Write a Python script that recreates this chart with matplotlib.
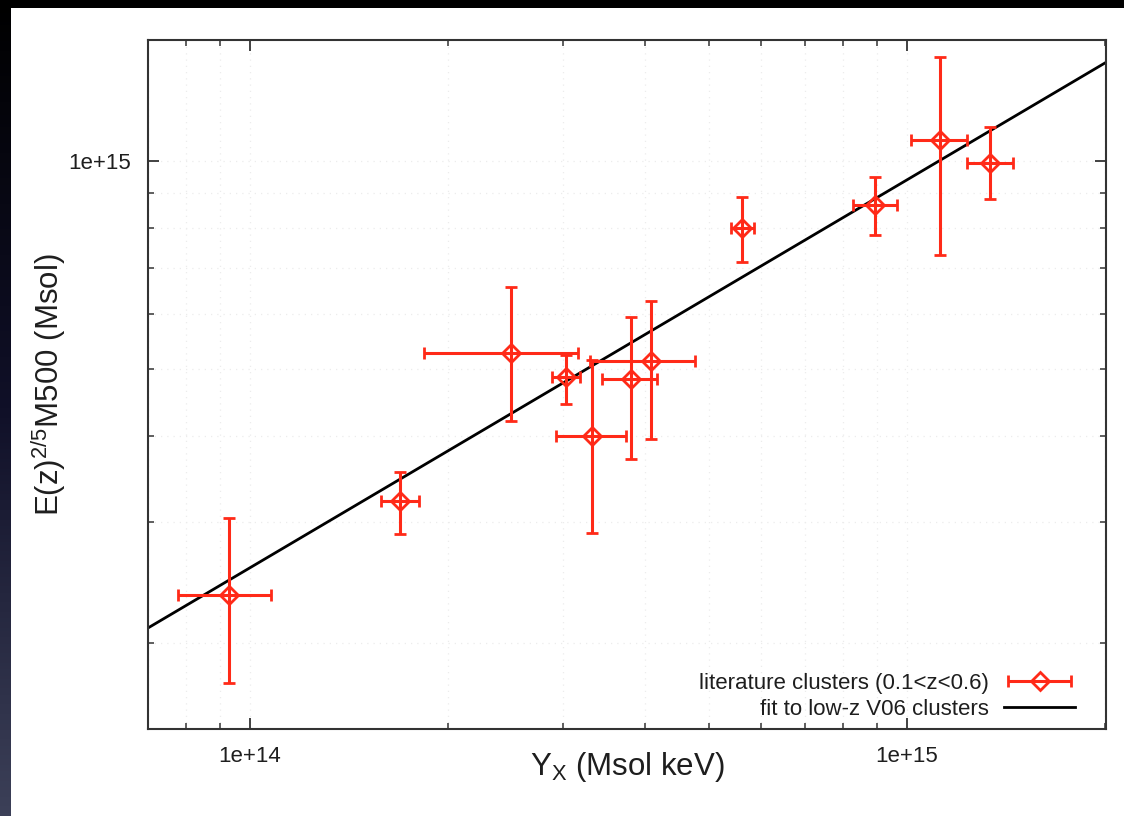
import numpy as np
import matplotlib
matplotlib.use("Agg")
import matplotlib.pyplot as plt
from matplotlib.patches import Rectangle
from matplotlib.colors import LinearSegmentedColormap
from matplotlib.container import ErrorbarContainer
from matplotlib.legend_handler import HandlerErrorbar
from matplotlib.ticker import LogLocator, FixedLocator, FixedFormatter, NullFormatter

plt.rcParams['font.family'] = ['Liberation Sans', 'DejaVu Sans']
plt.rcParams['mathtext.default'] = 'regular'

# Literature clusters: Y_X (Msol keV) and E(z)^{2/5} M500 (Msol), with asymmetric errors
yx = [9.29e13, 1.692e14, 2.497e14, 3.027e14, 3.315e14, 3.80e14, 4.077e14,
      5.609e14, 8.94e14, 1.123e15, 1.337e15]
yx_lo = [7.77e13, 1.583e14, 1.840e14, 2.882e14, 2.923e14, 3.434e14, 3.292e14,
         5.396e14, 8.277e14, 1.014e15, 1.234e15]
yx_hi = [1.076e14, 1.808e14, 3.156e14, 3.18e14, 3.735e14, 4.164e14, 4.756e14,
         5.848e14, 9.65e14, 1.234e15, 1.449e15]
mass = [2.35e14, 3.216e14, 5.278e14, 4.87e14, 3.997e14, 4.836e14, 5.138e14,
        7.99e14, 8.63e14, 1.073e15, 9.93e14]
mass_lo = [1.748e14, 2.880e14, 4.203e14, 4.45e14, 2.89e14, 3.701e14, 3.957e14,
           7.154e14, 7.805e14, 7.32e14, 8.807e14]
mass_hi = [3.04e14, 3.543e14, 6.58e14, 5.243e14, 5.155e14, 5.934e14, 6.28e14,
           8.865e14, 9.48e14, 1.416e15, 1.12e15]

# Power-law fit to the low-z V06 clusters: M = norm * (Y_X / 1e14)^slope
fit_norm = 2.57e14
fit_slope = 0.563

x_range = [7.0e13, 2.01e15]
y_range = [1.5e14, 1.5e15]

x_ticks = [1e14, 1e15]
x_tick_labels = ['1e+14', '1e+15']
y_ticks = [1e15]
y_tick_labels = ['1e+15']

red = '#ff2a18'
ink = '#1e1e1e'

fig = plt.figure(figsize=(11.24, 8.16), dpi=100)
fig.patch.set_facecolor('black')

# slide background: dark strip on the left fading from black to slate blue
bg = fig.add_axes([0, 0, 1, 1], zorder=-10)
grad = np.linspace(0, 1, 256).reshape(-1, 1)
cmap = LinearSegmentedColormap.from_list('slide', ['#000000', '#101028', '#3c4058'])
bg.imshow(grad, aspect='auto', cmap=cmap, extent=[0, 1, 0, 1], origin='upper')
bg.set_xlim(0, 1)
bg.set_ylim(0, 1)
bg.axis('off')
bg.add_patch(Rectangle((11 / 1124, 0), 1, (816 - 8) / 816, facecolor='white',
                       edgecolor='none'))

ax = fig.add_axes([148 / 1124, (816 - 729) / 816, (1106 - 148) / 1124, (729 - 40) / 816])
ax.set_xscale('log')
ax.set_yscale('log')
ax.set_xlim(*x_range)
ax.set_ylim(*y_range)

yx_a = np.array(yx)
mass_a = np.array(mass)
xerr = [yx_a - np.array(yx_lo), np.array(yx_hi) - yx_a]
yerr = [mass_a - np.array(mass_lo), np.array(mass_hi) - mass_a]

eb = ax.errorbar(yx_a, mass_a, xerr=xerr, yerr=yerr, fmt='D', color=red,
                 mfc='none', mec=red, mew=2.0, ms=9, elinewidth=2.2,
                 capsize=4.5, capthick=2.2, zorder=3)

xf = np.logspace(np.log10(x_range[0]), np.log10(x_range[1]), 50)
fit_line, = ax.plot(xf, fit_norm * (xf / 1e14) ** fit_slope, color='black',
                    lw=2.0, zorder=2)

# ticks on all four sides, pointing inward
ax.tick_params(which='both', direction='in', top=True, right=True,
               colors='#333333', labelcolor=ink)
ax.tick_params(which='major', length=8, width=1.3, labelsize=16, pad=12)
ax.tick_params(which='minor', length=4.5, width=1.1)
ax.xaxis.set_major_locator(FixedLocator(x_ticks))
ax.xaxis.set_major_formatter(FixedFormatter(x_tick_labels))
ax.yaxis.set_major_locator(FixedLocator(y_ticks))
ax.yaxis.set_major_formatter(FixedFormatter(y_tick_labels))
ax.xaxis.set_minor_locator(LogLocator(base=10, subs=np.arange(2, 10)))
ax.yaxis.set_minor_locator(LogLocator(base=10, subs=np.arange(2, 10)))
ax.xaxis.set_minor_formatter(NullFormatter())
ax.yaxis.set_minor_formatter(NullFormatter())
for s in ax.spines.values():
    s.set_linewidth(1.5)
    s.set_color('#333333')

ax.grid(True, which='both', color='#ececec', linestyle=(0, (1, 4)), lw=0.9,
        zorder=0)

ax.set_xlabel(r'Y$_X$ (Msol keV)', fontsize=22.5, color=ink)
ax.set_ylabel(r'E(z)$^{2/5}$M500 (Msol)', fontsize=22.5, color=ink)
ax.xaxis.set_label_coords(0.5, -0.031)
ax.yaxis.set_label_coords(-0.083, 0.5)

legend_handle = ErrorbarContainer(eb.lines, has_xerr=True, has_yerr=False)
leg = ax.legend([legend_handle, fit_line],
                ['literature clusters (0.1<z<0.6)', 'fit to low-z V06 clusters'],
                handler_map={ErrorbarContainer: HandlerErrorbar(xerr_size=1.4)},
                loc='lower right', bbox_to_anchor=(0.977, 0.0),
                borderaxespad=0.0, frameon=False, markerfirst=False,
                fontsize=16, handlelength=3.2, handletextpad=0.7,
                labelspacing=0.25)
for t in leg.get_texts():
    t.set_color(ink)

fig.savefig('out.png', dpi=100, facecolor=fig.get_facecolor())
